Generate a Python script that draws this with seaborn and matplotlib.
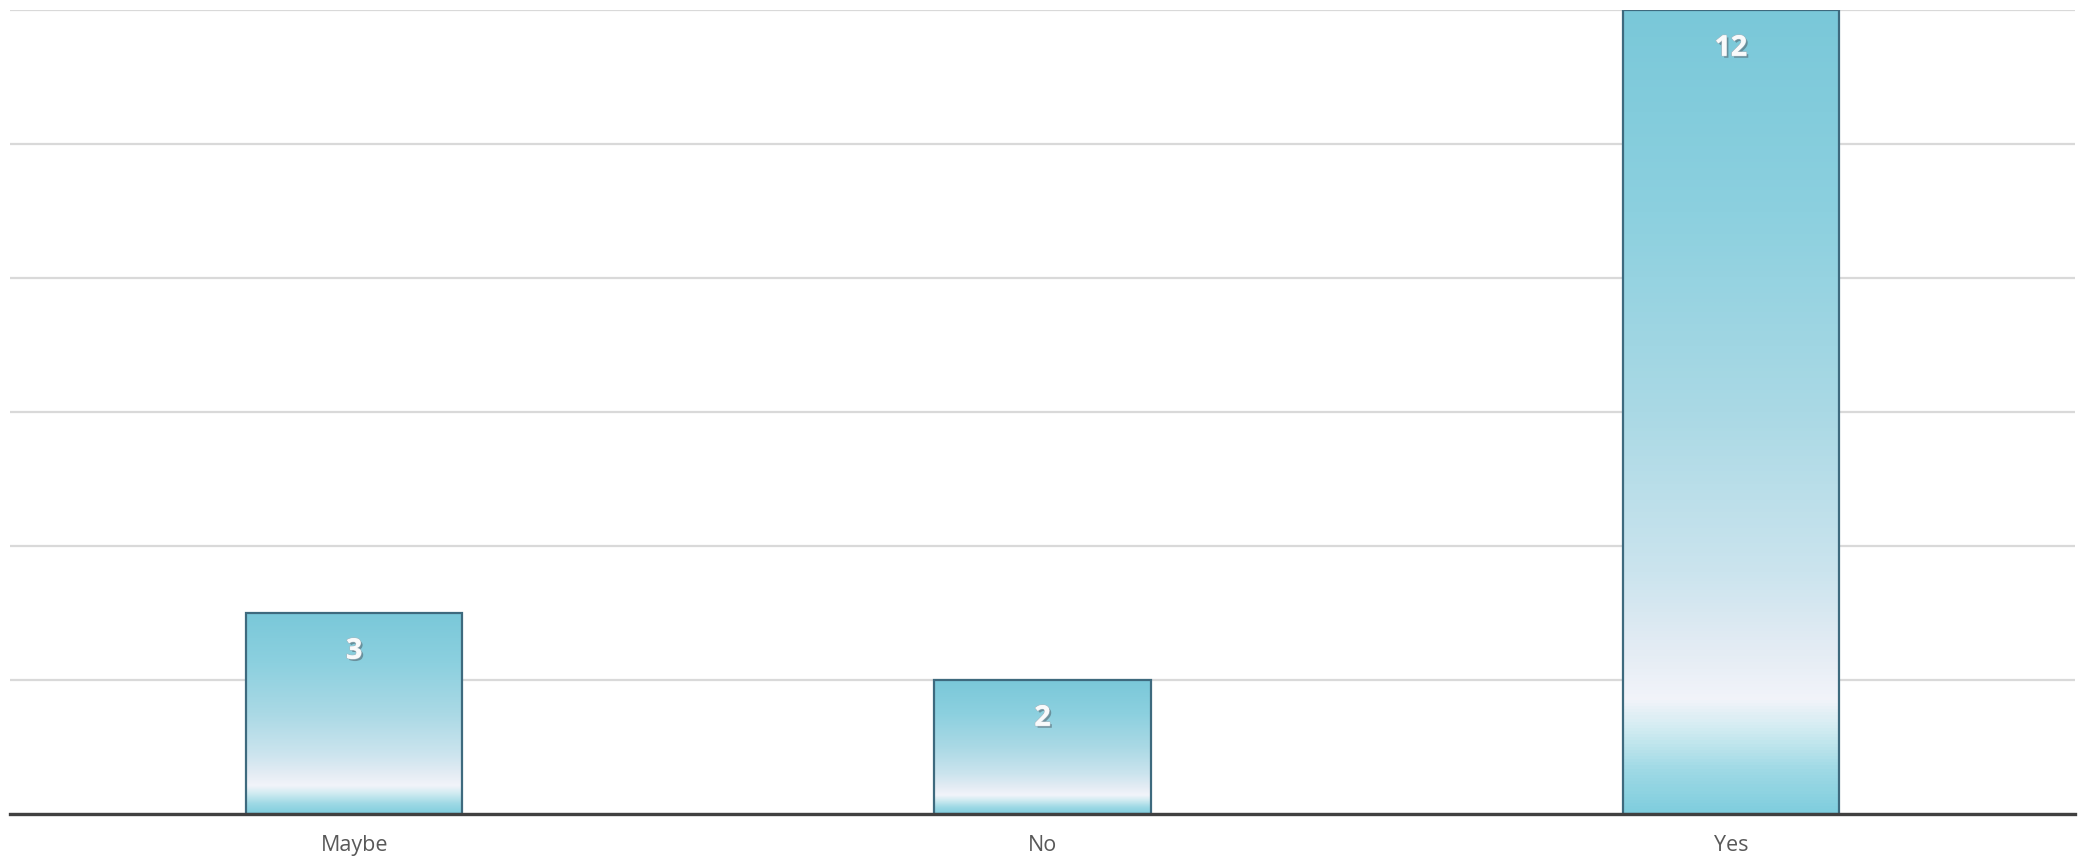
import numpy as np
import pandas as pd
import matplotlib
matplotlib.use("Agg")
import matplotlib.pyplot as plt
import matplotlib.patheffects as pe
from matplotlib.colors import LinearSegmentedColormap
import seaborn as sns

# data
categories = ["Maybe", "No", "Yes"]
counts = [3, 2, 12]
y_ticks = [0, 2, 4, 6, 8, 10, 12]

sns.set_theme(style="white")
plt.rcParams['font.family'] = ['Open Sans', 'DejaVu Sans']

df = pd.DataFrame({"answer": categories, "count": counts})

fig = plt.figure(figsize=(20.87, 8.59), dpi=100)
ax = fig.add_axes([10 / 2087, 1 - 814 / 859, 2065 / 2087, 804 / 859])

sns.barplot(data=df, x="answer", y="count", width=0.314, ax=ax,
            color="#7ECBDB", edgecolor="#3E6A7E", linewidth=1.6, zorder=3)

ax.set_ylim(0, 12)
ax.set_xlim(-0.5, 2.5)
ax.set_yticks(y_ticks)
ax.set_yticklabels([])
ax.yaxis.grid(True, color="#D9D9D9", linewidth=1.6, zorder=0)
ax.set_axisbelow(True)
ax.set_xlabel("")
ax.set_ylabel("")
for side in ["left", "right", "top"]:
    ax.spines[side].set_visible(False)
ax.spines["bottom"].set_color("#404040")
ax.spines["bottom"].set_linewidth(2.4)
ax.spines["bottom"].set_zorder(5)
ax.tick_params(axis="x", length=0, pad=15, labelsize=15.5, labelcolor="#595959")
ax.tick_params(axis="y", length=0)

# gradient fill, top to bottom
grad = LinearSegmentedColormap.from_list("bar_grad", [
    (0.00, "#7AC8D9"),
    (0.25, "#8CD0DF"),
    (0.50, "#AAD9E5"),
    (0.70, "#CBE4EE"),
    (0.80, "#E4ECF4"),
    (0.86, "#F2F4FA"),
    (0.90, "#CFEBF1"),
    (0.95, "#9ED9E5"),
    (1.00, "#80CEDE"),
])
g = np.linspace(0, 1, 256).reshape(-1, 1)
for patch, val in zip(ax.patches, counts):
    x0 = patch.get_x()
    w = patch.get_width()
    h = patch.get_height()
    patch.set_facecolor("none")
    im = ax.imshow(g, cmap=grad, aspect="auto", extent=[x0, x0 + w, 0, h],
                   origin="upper", zorder=2, interpolation="bicubic")
    im.set_clip_path(patch)
    ax.annotate(str(val), xy=(x0 + w / 2, h), xytext=(0, -27.5),
                textcoords="offset points", ha="center", va="center",
                fontsize=20.5, fontweight="bold", color="#F8FAFB", zorder=6,
                path_effects=[pe.withSimplePatchShadow(offset=(1.5, -1.5),
                                                       shadow_rgbFace="#4F5F68", alpha=0.55),
                              pe.withStroke(linewidth=1.0, foreground="#A9B8C0"),
                              pe.Normal()])

ax.set_xlim(-0.5, 2.5)
ax.set_ylim(0, 12)

fig.savefig("out.png", dpi=100, facecolor="white")
